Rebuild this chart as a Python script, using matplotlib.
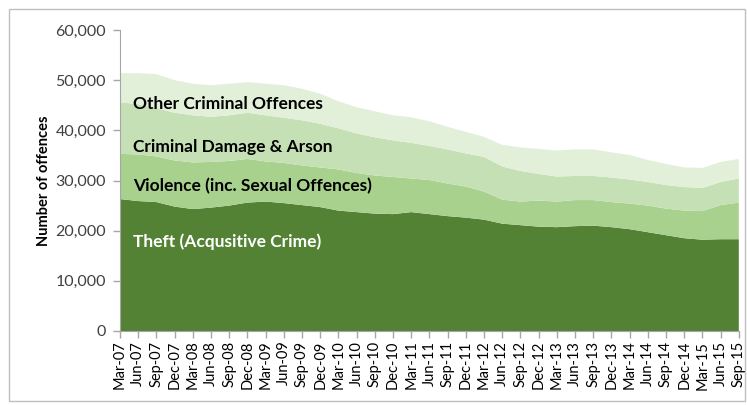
import numpy as np
import matplotlib.pyplot as plt
from matplotlib.patches import Rectangle

# Trimestres: Mar-07 .. Sep-15
quarters = ['Mar-07', 'Jun-07', 'Sep-07', 'Dec-07', 'Mar-08', 'Jun-08', 'Sep-08', 'Dec-08',
            'Mar-09', 'Jun-09', 'Sep-09', 'Dec-09', 'Mar-10', 'Jun-10', 'Sep-10', 'Dec-10',
            'Mar-11', 'Jun-11', 'Sep-11', 'Dec-11', 'Mar-12', 'Jun-12', 'Sep-12', 'Dec-12',
            'Mar-13', 'Jun-13', 'Sep-13', 'Dec-13', 'Mar-14', 'Jun-14', 'Sep-14', 'Dec-14',
            'Mar-15', 'Jun-15', 'Sep-15']

theft = [26300, 25900, 25700, 24800, 24300, 24600, 25000, 25600, 25800, 25500, 25100, 24700,
         24000, 23700, 23400, 23300, 23700, 23300, 22900, 22600, 22200, 21400, 21100, 20800,
         20700, 20900, 21000, 20700, 20300, 19700, 19100, 18500, 18200, 18300, 18300]
violence = [9000, 9300, 9100, 9200, 9300, 9100, 8900, 8700, 8000, 8000, 7900, 7900,
            8200, 7800, 7600, 7400, 6700, 6800, 6500, 6200, 5600, 4800, 4700, 5200,
            5100, 5200, 5100, 5000, 5100, 5300, 5300, 5500, 5700, 6800, 7300]
damage = [10300, 10000, 9600, 9500, 9400, 9000, 9100, 9200, 9200, 9000, 9000, 8700,
          8200, 7900, 7600, 7300, 7100, 6800, 6800, 6600, 6900, 6600, 6100, 5300,
          5000, 4800, 4800, 4900, 4800, 4700, 4700, 4700, 4600, 4600, 4800]
other = [5800, 6200, 6800, 6500, 6300, 6300, 6300, 6100, 6300, 6500, 6300, 6000,
         5400, 5200, 5200, 5000, 5100, 4900, 4500, 4300, 4000, 4300, 4700, 5000,
         5200, 5300, 5300, 5000, 4900, 4400, 4200, 3900, 4000, 4000, 3900]

cores = ['#548235', '#A9D18E', '#C5E0B4', '#E2F0D9']

plt.rcParams['font.family'] = ['Lato', 'DejaVu Sans']

fig = plt.figure(figsize=(7.47, 4.05), dpi=100)
fig.patches.append(Rectangle((9 / 747, 4 / 405), 736 / 747, 392 / 405, transform=fig.transFigure,
                             fill=False, edgecolor='#BFBFBF', linewidth=1))
ax = fig.add_axes([120 / 747, 1 - 331 / 405, 618.8 / 747, 301 / 405])

x = np.arange(len(quarters))
ax.stackplot(x, theft, violence, damage, other, colors=cores, linewidth=0)

ax.set_xlim(0, len(quarters) - 1)
ax.set_ylim(0, 60000)
ax.set_yticks(np.arange(0, 60001, 10000))
ax.set_yticklabels([f'{v:,}' for v in range(0, 60001, 10000)], fontsize=11.5, color='#404040')
ax.set_xticks(x)
ax.set_xticklabels(quarters, rotation=90, fontsize=10.5, color='#000000')
ax.tick_params(axis='both', length=5, color='#A6A6A6', width=1)
ax.tick_params(axis='y', pad=5)
ax.tick_params(axis='x', pad=2)
for s in ['top', 'right']:
    ax.spines[s].set_visible(False)
for s in ['left', 'bottom']:
    ax.spines[s].set_color('#A6A6A6')
ax.set_ylabel('Number of offences', fontsize=10.5, fontweight='bold', labelpad=3)

# Rótulos das áreas
ax.text(0.7, 45300, 'Other Criminal Offences', fontsize=12.5, fontweight='bold', va='center')
ax.text(0.7, 36600, 'Criminal Damage & Arson', fontsize=12.5, fontweight='bold', va='center')
ax.text(0.7, 28800, 'Violence (inc. Sexual Offences)', fontsize=12.5, fontweight='bold', va='center')
ax.text(0.7, 17700, 'Theft (Acqusitive Crime)', fontsize=12.5, fontweight='bold', va='center', color='white')

fig.savefig('out.png', dpi=100)
